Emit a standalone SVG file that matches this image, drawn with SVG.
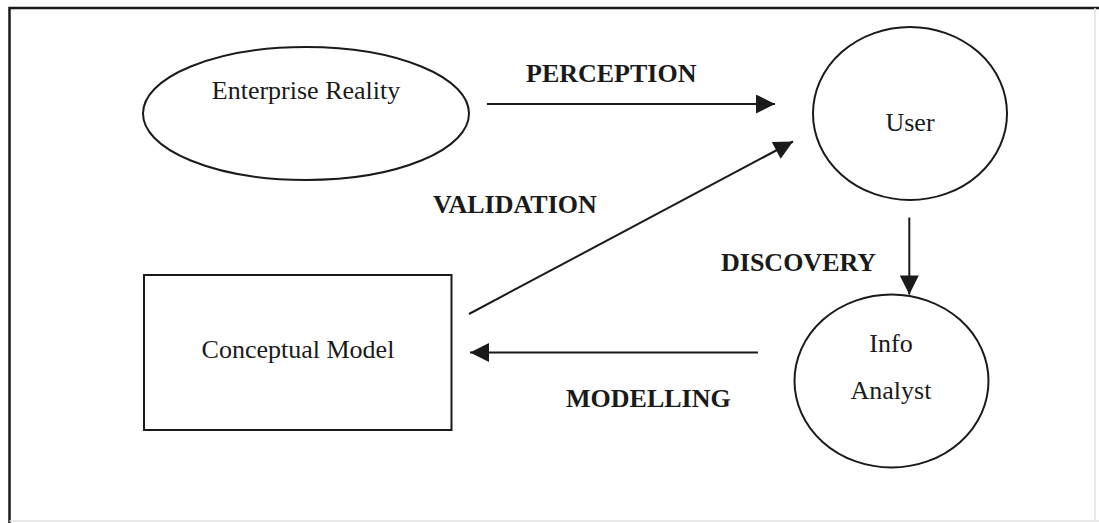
<svg xmlns="http://www.w3.org/2000/svg" width="1099" height="523" viewBox="0 0 1099 523">
  <style>
    .shape { fill: none; stroke: #1a1a1a; stroke-width: 2; }
    .edge { fill: none; stroke: #1a1a1a; stroke-width: 2; }
    .label { font-family: "Liberation Serif", "Times New Roman", serif; font-size: 26px; fill: #1a1a1a; text-anchor: middle; }
    .flow { font-family: "Liberation Serif", "Times New Roman", serif; font-size: 26px; font-weight: bold; fill: #1a1a1a; }
  </style>
  <defs>
    <marker id="arrow" viewBox="0 0 20 20" refX="20" refY="10" markerWidth="20" markerHeight="19" markerUnits="userSpaceOnUse" orient="auto">
      <path d="M0,0 L20,10 L0,20 Z" fill="#1a1a1a"/>
    </marker>
  </defs>
  <rect width="1099" height="523" fill="#ffffff"/>

  <!-- outer frame -->
  <g id="frame">
    <path d="M9.5,523 V8 H1099" fill="none" stroke="#1a1a1a" stroke-width="2.5"/>
    <path d="M9.5,521 H1099 M1095,8 V521" fill="none" stroke="#e2e2e2" stroke-width="1.5"/>
  </g>

  <g id="enterprise-reality">
    <ellipse class="shape" cx="306" cy="113.5" rx="163" ry="66.5"/>
    <text class="label" x="306" y="99">Enterprise Reality</text>
  </g>

  <g id="user">
    <ellipse class="shape" cx="910" cy="113.5" rx="97" ry="86.5"/>
    <text class="label" x="910" y="131">User</text>
  </g>

  <g id="info-analyst">
    <ellipse class="shape" cx="891.5" cy="381" rx="97" ry="86.5"/>
    <text class="label" x="891" y="352">Info</text>
    <text class="label" x="891" y="399">Analyst</text>
  </g>

  <g id="conceptual-model">
    <rect class="shape" x="144" y="275" width="307.5" height="155"/>
    <text class="label" x="298" y="358">Conceptual Model</text>
  </g>

  <g id="connectors">
    <line class="edge" x1="487" y1="104" x2="775" y2="104" marker-end="url(#arrow)"/>
    <line class="edge" x1="469" y1="314" x2="793" y2="141.5" marker-end="url(#arrow)"/>
    <line class="edge" x1="909.3" y1="217.5" x2="909.3" y2="294.5" marker-end="url(#arrow)"/>
    <line class="edge" x1="758" y1="352.5" x2="470" y2="352.5" marker-end="url(#arrow)"/>
    <text class="flow" x="526" y="82">PERCEPTION</text>
    <text class="flow" x="433" y="213">VALIDATION</text>
    <text class="flow" x="721" y="271">DISCOVERY</text>
    <text class="flow" x="566" y="407">MODELLING</text>
  </g>
</svg>
